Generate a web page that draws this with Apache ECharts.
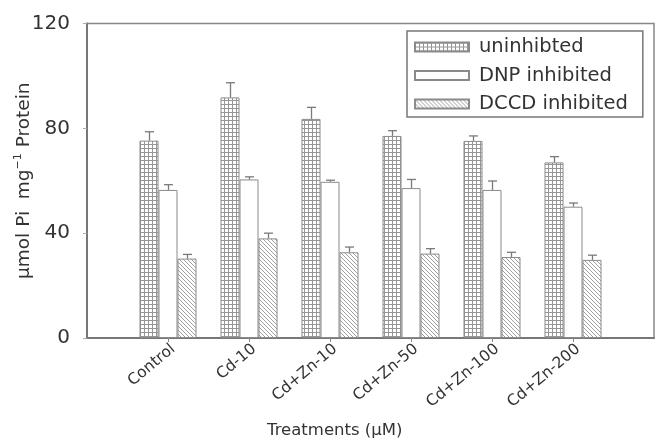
<!DOCTYPE html>
<html>
<head>
<meta charset="utf-8">
<script src="https://cdn.jsdelivr.net/npm/echarts@6/dist/echarts.min.js"></script>
<style>
html,body{margin:0;padding:0;background:#fff;}
#chart{width:656px;height:441px;}
</style>
</head>
<body>
<div id="chart"></div>
<script>
// ---- data ----
const categories = ['Control', 'Cd-10', 'Cd+Zn-10', 'Cd+Zn-50', 'Cd+Zn-100', 'Cd+Zn-200'];
const seriesNames = ['uninhibted', 'DNP inhibited', 'DCCD inhibited'];
const uninhibited = [75.3, 91.8, 83.6, 77.1, 75.2, 67.0];
const uninhibitedErr = [3.4, 5.6, 4.4, 2.0, 1.9, 2.2];
const dnp = [56.5, 60.5, 59.6, 57.2, 56.5, 50.1];
const dnpErr = [2.0, 1.0, 0.6, 3.3, 3.4, 1.4];
const dccd = [30.3, 38.0, 32.7, 32.2, 30.9, 29.8];
const dccdErr = [1.6, 2.0, 2.0, 1.9, 1.8, 1.8];
const yTicks = [0, 40, 80, 120];

// ---- patterns ----
function gridPattern() {
  const c = document.createElement('canvas');
  c.width = 4; c.height = 4;
  const g = c.getContext('2d');
  g.fillStyle = '#ffffff'; g.fillRect(0, 0, 4, 4);
  g.fillStyle = '#969696';
  g.fillRect(0, 0, 4, 1);
  g.fillRect(0, 0, 1, 4);
  return { image: c, repeat: 'repeat' };
}
function hatchPattern() {
  const c = document.createElement('canvas');
  c.width = 4; c.height = 4;
  const g = c.getContext('2d');
  g.fillStyle = '#ffffff'; g.fillRect(0, 0, 4, 4);
  g.fillStyle = '#a0a0a0';
  for (let i = 0; i < 4; i++) g.fillRect(i, i, 1, 1);
  return { image: c, repeat: 'repeat' };
}

const cats = [''].concat(categories, ['']);
const pad = arr => ['-'].concat(arr, ['-']);
const BAR_W = 19;
const FONT = 'DejaVu Sans';
const TXT = '#333';

function errSeries(name, vals, errs, offset) {
  return {
    type: 'custom',
    name: name + ' err',
    z: 5,
    data: vals.map((v, i) => [i + 1, v, errs[i]]),
    renderItem: function (params, api) {
      const x = api.value(0), v = api.value(1), e = api.value(2);
      const top = api.coord([x, v + e]);
      const base = api.coord([x, v]);
      const cx = Math.round(top[0] + offset) + 0.5;
      const st = { stroke: '#7a7a7a', lineWidth: 1.3 };
      return {
        type: 'group',
        children: [
          { type: 'line', shape: { x1: cx, y1: top[1], x2: cx, y2: base[1] }, style: st },
          { type: 'line', shape: { x1: cx - 4.5, y1: top[1], x2: cx + 4.5, y2: top[1] }, style: st }
        ]
      };
    }
  };
}

const barStyle = (color) => ({ color: color, borderColor: '#8a8a8a', borderWidth: 1 });

const chart = echarts.init(document.getElementById('chart'), null, { renderer: 'canvas' });
chart.setOption({
  animation: false,
  backgroundColor: '#ffffff',
  textStyle: { fontFamily: FONT },
  grid: {
    left: 87, right: 2, top: 23.5, bottom: 103,
    containLabel: false,
    outerBoundsMode: 'none',
    show: true, borderColor: '#888', borderWidth: 1.5
  },
  legend: {
    orient: 'vertical',
    left: 407, top: 31,
    data: seriesNames,
    icon: 'rect',
    itemWidth: 54, itemHeight: 9,
    itemGap: 6.5,
    padding: [5, 15, 2, 7],
    borderColor: '#777', borderWidth: 1.5,
    textStyle: { fontFamily: FONT, fontSize: 19.5, color: TXT, lineHeight: 22, padding: [0, 0, 0, 5] }
  },
  xAxis: {
    type: 'category',
    data: cats,
    boundaryGap: false,
    axisLine: { lineStyle: { color: '#777', width: 2 } },
    axisTick: { show: true, length: 4, interval: (i) => i > 0 && i < cats.length - 1, lineStyle: { color: '#888' } },
    axisLabel: { interval: 0, rotate: 40, fontSize: 15.5, color: TXT, fontFamily: FONT, margin: 3, verticalAlign: 'top' },
    splitLine: { show: false }
  },
  yAxis: {
    type: 'value',
    min: yTicks[0], max: yTicks[yTicks.length - 1], interval: 40,
    name: '{n|µmol Pi  mg}{sup|−1}{n| Protein}',
    nameLocation: 'middle',
    nameGap: 52,
    nameMoveOverlap: false,
    nameTextStyle: {
      rich: {
        n: { fontSize: 18.5, color: TXT, fontFamily: FONT, lineHeight: 22 },
        sup: { fontSize: 11, color: TXT, fontFamily: FONT, lineHeight: 12, verticalAlign: 'top' }
      }
    },
    axisLine: { show: true, lineStyle: { color: '#777', width: 2 } },
    axisTick: { show: true, length: 4, lineStyle: { color: '#aaa' } },
    axisLabel: { fontSize: 20, color: TXT, fontFamily: FONT, margin: 17 },
    splitLine: { show: false }
  },
  graphic: [{
    type: 'text', left: 267, top: 422,
    style: { text: 'Treatments (µM)', font: '16.5px "DejaVu Sans"', fill: TXT }
  }],
  series: [
    { type: 'bar', name: seriesNames[0], data: pad(uninhibited), barWidth: BAR_W, barGap: '0%', itemStyle: barStyle(gridPattern()) },
    { type: 'bar', name: seriesNames[1], data: pad(dnp), barWidth: BAR_W, barGap: '0%', itemStyle: barStyle('#ffffff') },
    { type: 'bar', name: seriesNames[2], data: pad(dccd), barWidth: BAR_W, barGap: '0%', itemStyle: barStyle(hatchPattern()) },
    errSeries(seriesNames[0], uninhibited, uninhibitedErr, -BAR_W),
    errSeries(seriesNames[1], dnp, dnpErr, 0),
    errSeries(seriesNames[2], dccd, dccdErr, BAR_W)
  ]
});
</script>
</body>
</html>
